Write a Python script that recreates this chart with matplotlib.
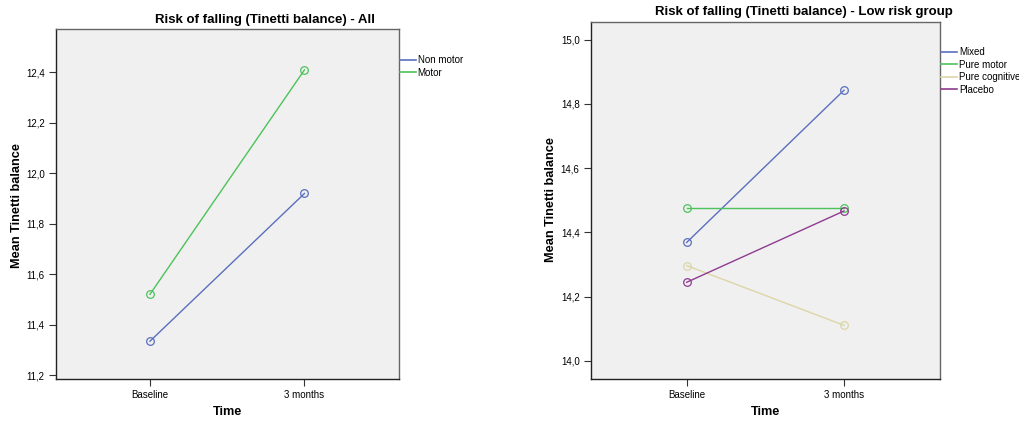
import matplotlib
matplotlib.use("Agg")
import matplotlib.pyplot as plt
from matplotlib.lines import Line2D
from matplotlib.ticker import FuncFormatter

plt.rcParams["font.family"] = ["Liberation Sans", "DejaVu Sans"]

time_labels = ["Baseline", "3 months"]

# panel 1 - all
all_groups = ["Non motor", "Motor"]
all_values = [[11.334, 11.92], [11.52, 12.41]]
all_colors = ["#5a6fbf", "#4cc35a"]

# panel 2 - low risk group
low_groups = ["Mixed", "Pure motor", "Pure cognitive", "Placebo"]
low_values = [[14.369, 14.843], [14.475, 14.475], [14.297, 14.111], [14.245, 14.467]]
low_colors = ["#5a6fbf", "#4cc35a", "#dcd6a7", "#8e3b91"]


def comma(v, pos):
    return ("%.1f" % v).replace(".", ",")


def panel(ax, groups, values, colors, ylim, yticks, leg_y):
    x = range(len(time_labels))
    for name, vals, c in zip(groups, values, colors):
        ax.plot(x, vals, color=c, lw=1.0, marker="o", ms=5.5, mfc="none",
                mec=c, mew=0.9)
    ax.set_facecolor("#f0f0f0")
    ax.set_xlim(-0.61, 1.61)
    ax.set_ylim(*ylim)
    ax.set_yticks(yticks)
    ax.yaxis.set_major_formatter(FuncFormatter(comma))
    ax.set_xticks(list(x))
    ax.set_xticklabels(time_labels)
    ax.tick_params(labelsize=7, length=5, width=0.8, color="#333333", pad=3)
    for s in ax.spines.values():
        s.set_color("#666666")
        s.set_linewidth(1.0)
    ax.spines["left"].set_color("#222222")
    ax.spines["bottom"].set_color("#222222")
    handles = [Line2D([], [], color=c, lw=1.2) for c in colors]
    ax.legend(handles, groups, loc="upper left", bbox_to_anchor=(1.0, leg_y),
              frameon=False, fontsize=7, handlelength=1.65, handletextpad=0.2,
              labelspacing=0.25, borderpad=0, borderaxespad=0.1)


fig = plt.figure(figsize=(10.2, 4.21), dpi=100)
ax1 = fig.add_axes([0.0546, 0.099, 0.3363, 0.8314])
ax2 = fig.add_axes([0.5791, 0.0998, 0.3425, 0.847])

panel(ax1, all_groups, all_values, all_colors, (11.183, 12.571),
      [11.2, 11.4, 11.6, 11.8, 12.0, 12.2, 12.4], 0.929)
panel(ax2, low_groups, low_values, low_colors, (13.944, 15.054),
      [14.0, 14.2, 14.4, 14.6, 14.8, 15.0], 0.933)

fig.text(265 / 1020, 1 - 20.5 / 421, "Risk of falling (Tinetti balance) - All",
         ha="center", va="center", fontsize=9.5, fontweight="bold")
fig.text(804 / 1020, 1 - 12.5 / 421, "Risk of falling (Tinetti balance) - Low risk group",
         ha="center", va="center", fontsize=9.5, fontweight="bold")

fig.text(16.7 / 1020, 1 - 205 / 421, "Mean Tinetti balance", rotation=90,
         ha="center", va="center", fontsize=9.2, fontweight="bold")
fig.text(550.7 / 1020, 1 - 200 / 421, "Mean Tinetti balance", rotation=90,
         ha="center", va="center", fontsize=9.2, fontweight="bold")
fig.text(227.5 / 1020, 1 - 412 / 421, "Time", ha="center", va="center",
         fontsize=9.2, fontweight="bold")
fig.text(765.5 / 1020, 1 - 412 / 421, "Time", ha="center", va="center",
         fontsize=9.2, fontweight="bold")

fig.savefig("out.png", dpi=100)
